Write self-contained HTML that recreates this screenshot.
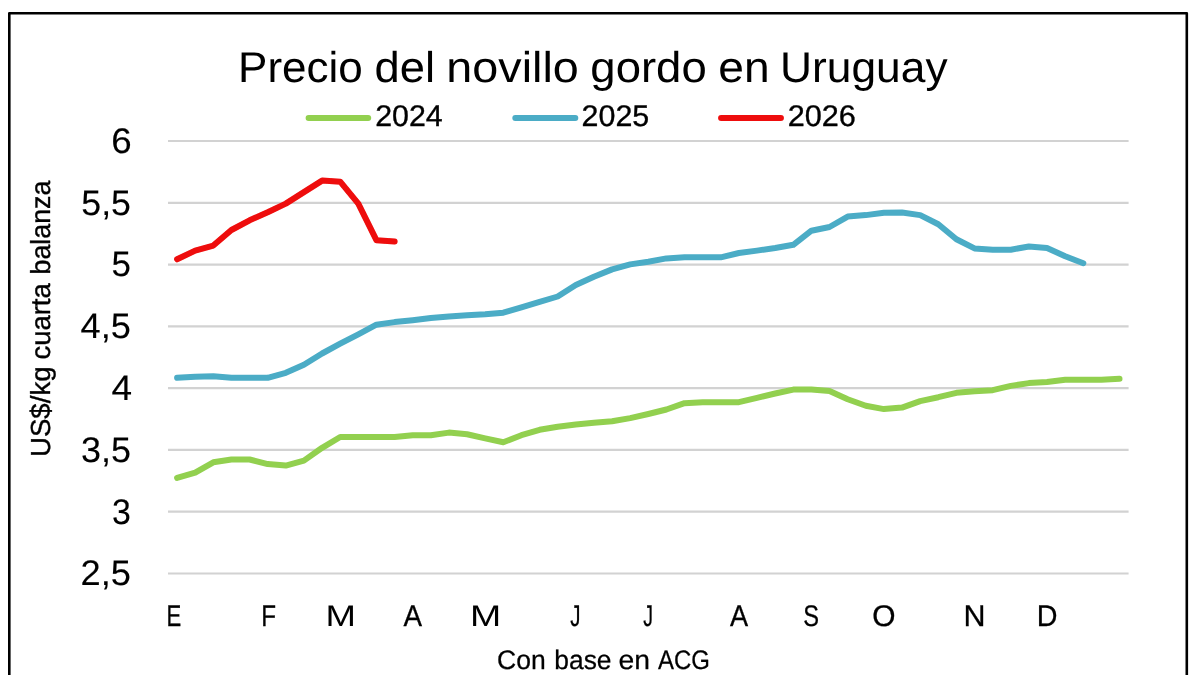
<!DOCTYPE html>
<html lang="es"><head><meta charset="utf-8"><title>Precio del novillo gordo en Uruguay</title>
<style>
html,body{margin:0;padding:0;background:#fff;overflow:hidden}
svg{display:block;font-family:"Liberation Sans",sans-serif;text-rendering:geometricPrecision}
</style></head><body>
<svg width="1200" height="675" viewBox="0 0 1200 675">
<defs><filter id="soft" x="-20" y="-20" width="1240" height="715" filterUnits="userSpaceOnUse"><feGaussianBlur stdDeviation="0.5"/></filter></defs>
<rect x="0" y="0" width="1200" height="675" fill="#fff"/>
<g filter="url(#soft)">
<path d="M9.3,676 V13.2 H1186.8 V676" fill="none" stroke="#000" stroke-width="2.6" stroke-linejoin="round"/>
<line x1="168.0" x2="1128.6" y1="141.00" y2="141.00" stroke="#d2d2d2" stroke-width="2.2"/>
<line x1="168.0" x2="1128.6" y1="202.79" y2="202.79" stroke="#d2d2d2" stroke-width="2.2"/>
<line x1="168.0" x2="1128.6" y1="264.57" y2="264.57" stroke="#d2d2d2" stroke-width="2.2"/>
<line x1="168.0" x2="1128.6" y1="326.36" y2="326.36" stroke="#d2d2d2" stroke-width="2.2"/>
<line x1="168.0" x2="1128.6" y1="388.14" y2="388.14" stroke="#d2d2d2" stroke-width="2.2"/>
<line x1="168.0" x2="1128.6" y1="449.93" y2="449.93" stroke="#d2d2d2" stroke-width="2.2"/>
<line x1="168.0" x2="1128.6" y1="511.71" y2="511.71" stroke="#d2d2d2" stroke-width="2.2"/>
<line x1="168.0" x2="1128.6" y1="573.50" y2="573.50" stroke="#d2d2d2" stroke-width="2.2"/>
<polyline points="177.1,477.9 195.2,472.7 213.3,462.3 231.4,459.5 249.6,459.5 267.7,464.1 285.8,465.6 303.9,460.6 322.1,447.8 340.2,437.0 358.3,437.0 376.4,437.0 394.6,437.0 412.7,435.3 430.8,435.2 448.9,432.6 467.1,434.3 485.2,438.4 503.3,442.3 521.4,435.2 539.6,429.8 557.7,426.7 575.8,424.4 593.9,422.8 612.1,421.3 630.2,418.1 648.3,414.0 666.4,409.5 684.5,403.2 702.7,402.2 720.8,402.2 738.9,402.2 757.0,397.8 775.2,393.5 793.3,389.6 811.4,389.6 829.5,391.1 847.7,399.3 865.8,405.8 883.9,409.1 902.0,407.6 920.2,401.1 938.3,397.2 956.4,392.8 974.5,391.3 992.7,390.2 1010.8,385.9 1028.9,383.1 1047.0,382.0 1065.2,379.8 1083.3,379.8 1101.4,379.8 1119.5,378.8" fill="none" stroke="#92d050" stroke-width="6.0" stroke-linecap="round" stroke-linejoin="round"/>
<polyline points="177.1,377.8 195.2,376.7 213.3,376.2 231.4,377.8 249.6,377.8 267.7,377.8 285.8,372.8 303.9,364.8 322.1,353.5 340.2,343.7 358.3,334.4 376.4,324.7 394.6,322.1 412.7,320.2 430.8,317.9 448.9,316.4 467.1,315.3 485.2,314.3 503.3,312.7 521.4,307.3 539.6,301.9 557.7,296.5 575.8,285.0 593.9,276.8 612.1,269.4 630.2,264.4 648.3,261.7 666.4,258.4 684.5,257.3 702.7,257.3 720.8,257.3 738.9,253.0 757.0,250.6 775.2,248.0 793.3,244.8 811.4,230.7 829.5,227.0 847.7,216.6 865.8,215.1 883.9,212.7 902.0,212.5 920.2,215.1 938.3,224.2 956.4,239.3 974.5,248.4 992.7,249.7 1010.8,249.7 1028.9,246.5 1047.0,248.0 1065.2,256.2 1083.3,263.2" fill="none" stroke="#4bacc6" stroke-width="6.0" stroke-linecap="round" stroke-linejoin="round"/>
<polyline points="177.1,259.3 195.2,250.6 213.3,245.6 231.4,230.0 249.6,220.3 267.7,212.2 285.8,203.6 303.9,192.1 322.1,180.6 340.2,181.7 358.3,203.6 376.4,240.2 394.6,241.5" fill="none" stroke="#ee0808" stroke-width="6.0" stroke-linecap="round" stroke-linejoin="round"/>
<line x1="308.6" x2="368.2" y1="118" y2="118" stroke="#92d050" stroke-width="6" stroke-linecap="round"/>
<line x1="515.3" x2="575.3" y1="118" y2="118" stroke="#4bacc6" stroke-width="6" stroke-linecap="round"/>
<line x1="721.1" x2="780.9" y1="118" y2="118" stroke="#ee0808" stroke-width="6" stroke-linecap="round"/>
<text y="81.50" font-size="43.05"><tspan x="238.07" textLength="124.78" lengthAdjust="spacingAndGlyphs">Precio</tspan> <tspan x="374.57" textLength="60.46" lengthAdjust="spacingAndGlyphs">del</tspan> <tspan x="446.35" textLength="132.42" lengthAdjust="spacingAndGlyphs">novillo</tspan> <tspan x="590.37" textLength="116.36" lengthAdjust="spacingAndGlyphs">gordo</tspan> <tspan x="718.34" textLength="51.37" lengthAdjust="spacingAndGlyphs">en</tspan> <tspan x="780.06" textLength="167.54" lengthAdjust="spacingAndGlyphs">Uruguay</tspan></text>
<text transform="translate(375.18,126.30) scale(1.0178,1)" font-size="29.82" fill="#000" stroke="#000" stroke-width="0.35" vector-effect="non-scaling-stroke">2024</text>
<text transform="translate(581.58,126.30) scale(1.0206,1)" font-size="29.82" fill="#000" stroke="#000" stroke-width="0.35" vector-effect="non-scaling-stroke">2025</text>
<text transform="translate(787.67,126.30) scale(1.0281,1)" font-size="29.82" fill="#000" stroke="#000" stroke-width="0.35" vector-effect="non-scaling-stroke">2026</text>
<text transform="translate(111.16,152.90) scale(1.0314,1)" font-size="35.64" fill="#000" stroke="#000" stroke-width="0.12" vector-effect="non-scaling-stroke">6</text>
<text transform="translate(81.27,214.69) scale(1.0025,1)" font-size="35.64" fill="#000" stroke="#000" stroke-width="0.12" vector-effect="non-scaling-stroke">5,5</text>
<text transform="translate(111.50,276.47) scale(0.9807,1)" font-size="35.64" fill="#000" stroke="#000" stroke-width="0.12" vector-effect="non-scaling-stroke">5</text>
<text transform="translate(80.58,338.26) scale(1.0168,1)" font-size="35.64" fill="#000" stroke="#000" stroke-width="0.12" vector-effect="non-scaling-stroke">4,5</text>
<text transform="translate(111.47,400.04) scale(1.0391,1)" font-size="35.64" fill="#000" stroke="#000" stroke-width="0.12" vector-effect="non-scaling-stroke">4</text>
<text transform="translate(81.05,461.83) scale(1.0091,1)" font-size="35.64" fill="#000" stroke="#000" stroke-width="0.12" vector-effect="non-scaling-stroke">3,5</text>
<text transform="translate(112.03,523.61) scale(0.9511,1)" font-size="35.64" fill="#000" stroke="#000" stroke-width="0.12" vector-effect="non-scaling-stroke">3</text>
<text transform="translate(80.58,585.40) scale(1.0188,1)" font-size="35.64" fill="#000" stroke="#000" stroke-width="0.12" vector-effect="non-scaling-stroke">2,5</text>
<text transform="translate(166.58,626.30) scale(0.7418,1)" font-size="29.82" fill="#000" stroke="#000" stroke-width="0.3" vector-effect="non-scaling-stroke">E</text>
<text transform="translate(261.20,626.30) scale(0.8118,1)" font-size="29.82" fill="#000" stroke="#000" stroke-width="0.3" vector-effect="non-scaling-stroke">F</text>
<text transform="translate(325.58,626.30) scale(1.2259,1)" font-size="29.82" fill="#000">M</text>
<text transform="translate(403.53,626.30) scale(0.9314,1)" font-size="29.82" fill="#000" stroke="#000" stroke-width="0.3" vector-effect="non-scaling-stroke">A</text>
<text transform="translate(469.91,626.30) scale(1.2561,1)" font-size="29.82" fill="#000">M</text>
<text transform="translate(570.29,626.30) scale(0.6871,1)" font-size="29.82" fill="#000" stroke="#000" stroke-width="0.3" vector-effect="non-scaling-stroke">J</text>
<text transform="translate(643.31,626.30) scale(0.6544,1)" font-size="29.82" fill="#000" stroke="#000" stroke-width="0.3" vector-effect="non-scaling-stroke">J</text>
<text transform="translate(729.93,626.30) scale(0.9112,1)" font-size="29.82" fill="#000" stroke="#000" stroke-width="0.3" vector-effect="non-scaling-stroke">A</text>
<text transform="translate(803.34,626.30) scale(0.7932,1)" font-size="29.82" fill="#000" stroke="#000" stroke-width="0.3" vector-effect="non-scaling-stroke">S</text>
<text transform="translate(872.18,626.30) scale(1.0024,1)" font-size="29.82" fill="#000" stroke="#000" stroke-width="0.3" vector-effect="non-scaling-stroke">O</text>
<text transform="translate(963.48,626.30) scale(1.0226,1)" font-size="29.82" fill="#000" stroke="#000" stroke-width="0.3" vector-effect="non-scaling-stroke">N</text>
<text transform="translate(1036.63,626.30) scale(0.9622,1)" font-size="29.82" fill="#000" stroke="#000" stroke-width="0.3" vector-effect="non-scaling-stroke">D</text>
<text y="669.10" font-size="26.76" stroke="#000" stroke-width="0.25"><tspan x="497.07" textLength="48.71" lengthAdjust="spacingAndGlyphs">Con</tspan> <tspan x="554.28" textLength="57.27" lengthAdjust="spacingAndGlyphs">base</tspan> <tspan x="618.40" textLength="31.51" lengthAdjust="spacingAndGlyphs">en</tspan> <tspan x="657.94" textLength="51.84" lengthAdjust="spacingAndGlyphs">ACG</tspan></text>
<text transform="translate(49.70,0) rotate(-90)" y="0" font-size="27.49" stroke="#000" stroke-width="0.4"><tspan x="-457.04" textLength="90.62" lengthAdjust="spacingAndGlyphs">US$/kg</tspan> <tspan x="-359.57" textLength="76.32" lengthAdjust="spacingAndGlyphs">cuarta</tspan> <tspan x="-274.44" textLength="93.75" lengthAdjust="spacingAndGlyphs">balanza</tspan></text>
</g>
</svg>
</body></html>
